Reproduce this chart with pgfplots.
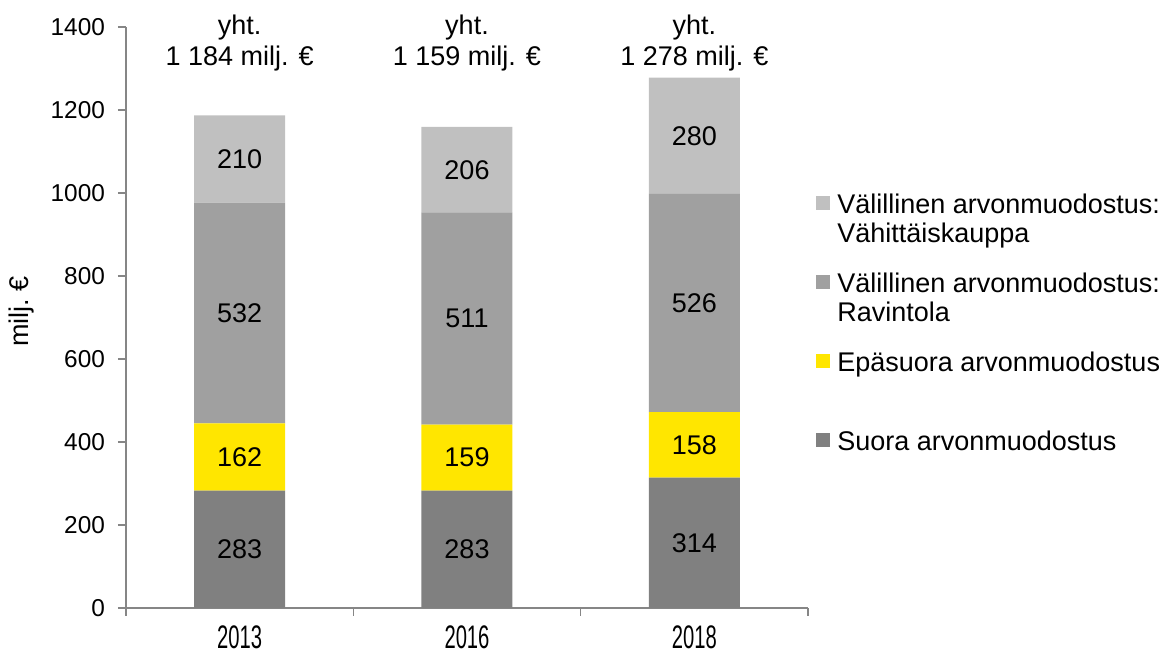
\documentclass[border=0pt]{standalone}
\usepackage{fontspec}
\setmainfont{Liberation Sans}
\usepackage{graphicx}
\usepackage{pgfplots}
\usepackage{pgfplotstable}
\pgfplotsset{compat=1.18}
\definecolor{suora}{HTML}{808080}
\definecolor{epasuora}{HTML}{FFE600}
\definecolor{ravintola}{HTML}{A0A0A0}
\definecolor{vahittais}{HTML}{C0C0C0}
\definecolor{axisgray}{HTML}{868686}
\pgfplotsset{sqleg/.style={legend image code/.code={\fill[##1] (0pt,6.0pt) rectangle (7.2pt,13.2pt);}}}

\pgfplotstableread{
x suora epa rav vah
0 283 162 532 210
1 283 159 511 206
2 314 158 526 280
}\data

\pgfplotstableread{
x y lab
0 141.5 283
1 141.5 283
2 157 314
0 364 162
1 362.5 159
2 393 158
0 711 532
1 697.5 511
2 735 526
0 1082 210
1 1056 206
2 1138 280
}\labs

\begin{document}
\begin{tikzpicture}
\useasboundingbox (-63pt,-24pt) rectangle (524pt,304pt);
\begin{axis}[
  at={(0,0)}, anchor=south west,
  scale only axis, width=341pt, height=290.5pt,
  ybar stacked, bar width=45.5pt,
  xmin=-0.5, xmax=2.5, ymin=0, ymax=1400,
  ytick={0,200,...,1400},
  xtick={0,1,2},
  xticklabels={\scalebox{0.62}[1]{2013},\scalebox{0.62}[1]{2016},\scalebox{0.62}[1]{2018}},
  minor xtick={-0.5,0.5,1.5,2.5},
  axis x line*=bottom, axis y line*=left,
  axis line style={axisgray, line width=0.75pt},
  tick align=outside,
  major tick length=4pt, minor tick length=4pt,
  tick style={axisgray, line width=0.75pt},
  major x tick style={draw=none},
  /pgf/number format/assume math mode=true,
  /pgf/number format/1000 sep={},
  yticklabel style={font=\fontsize{12.2}{14}\selectfont, xshift=-3pt},
  xticklabel style={font=\fontsize{16.3}{18}\selectfont, yshift=-1.5pt},
  ylabel={milj.~€},
  every axis y label/.style={at={(axis description cs:-0.1525,0.51)}, rotate=90, anchor=center, font=\fontsize{13.5}{15}\selectfont},
  legend style={at={(1.0117,0.7207)}, anchor=north west, draw=none, fill=none,
    inner sep=0pt, outer sep=0pt, row sep=6.5pt, column sep=1.5pt,
    font=\fontsize{13.5}{14.5}\selectfont,
    nodes={text height=10pt, text depth=19pt, inner sep=2pt}},
  legend cell align=left,
  reverse legend,
]
\addplot[fill=suora, draw=none, sqleg] table[x=x, y=suora] {\data};
\addlegendentry{Suora arvonmuodostus}
\addplot[fill=epasuora, draw=none, sqleg] table[x=x, y=epa] {\data};
\addlegendentry{Epäsuora arvonmuodostus}
\addplot[fill=ravintola, draw=none, sqleg] table[x=x, y=rav] {\data};
\addlegendentry{\parbox[t]{180pt}{Välillinen arvonmuodostus:\\Ravintola}}
\addplot[fill=vahittais, draw=none, sqleg] table[x=x, y=vah] {\data};
\addlegendentry{\parbox[t]{180pt}{Välillinen arvonmuodostus:\\Vähittäiskauppa}}
\end{axis}
\begin{axis}[
  at={(0,0)}, anchor=south west,
  scale only axis, width=341pt, height=290.5pt,
  xmin=-0.5, xmax=2.5, ymin=0, ymax=1400,
  hide axis, clip=false,
]
\addplot[only marks, mark=none, nodes near coords, point meta=explicit symbolic,
  nodes near coords style={anchor=center, font=\fontsize{13.5}{15}\selectfont, text=black}]
  table[x=x, y=y, meta=lab] {\labs};
\addplot[only marks, mark=none, nodes near coords, point meta=explicit symbolic,
  nodes near coords style={anchor=base, inner sep=0pt, font=\fontsize{13.5}{15}\selectfont, text=black}]
  coordinates {(0,1380.7)[yht.] (1,1380.7)[yht.] (2,1380.7)[yht.]};
\addplot[only marks, mark=none, nodes near coords, point meta=explicit symbolic,
  nodes near coords style={anchor=base, inner sep=0pt, font=\fontsize{13.5}{15}\selectfont, text=black}]
  coordinates {(0,1306.7)[1 184 milj. €] (1,1306.7)[1 159 milj. €] (2,1306.7)[1 278 milj. €]};
\end{axis}
\end{tikzpicture}
\end{document}
